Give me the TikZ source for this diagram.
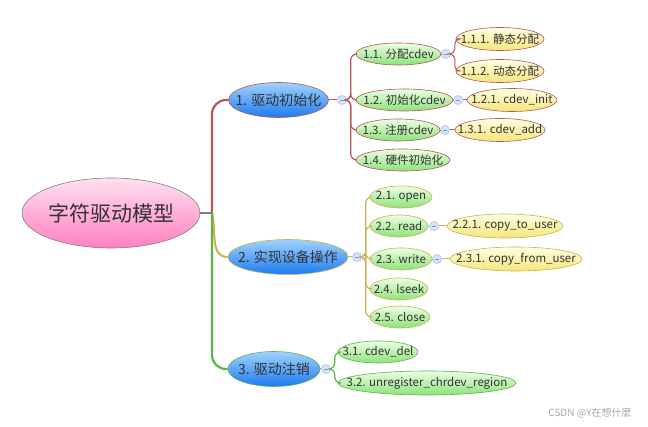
\documentclass[tikz,border=0pt]{standalone}
\usepackage{fontspec}
\newfontfamily\cjk{Noto Sans CJK SC}
\usetikzlibrary{shapes.geometric}
\newcommand{\zb}[1]{\makebox[0pt]{#1}}
\definecolor{bra}{HTML}{B5585A}
\definecolor{brb}{HTML}{C8B450}
\definecolor{brc}{HTML}{5DB34A}
\definecolor{txt}{HTML}{333333}
\definecolor{pinktop}{HTML}{FFE0F0}
\definecolor{pinkbot}{HTML}{FF80C0}
\definecolor{bluetop}{HTML}{A0D2FF}
\definecolor{bluebot}{HTML}{1E7BF0}
\definecolor{greentop}{HTML}{ECFFE4}
\definecolor{greenbot}{HTML}{8EE27A}
\definecolor{yeltop}{HTML}{FFFFE4}
\definecolor{yelbot}{HTML}{F5E57A}
\definecolor{collfill}{HTML}{D6E4FA}
\definecolor{collline}{HTML}{A0B8E4}
\definecolor{collminus}{HTML}{7896D2}
\definecolor{wmgray}{HTML}{A8A8A8}
\tikzset{
  base/.style={ellipse, inner sep=0pt, font=\cjk, text=txt, line width=0.6pt},
  rootnode/.style={base, top color=pinktop, bottom color=pinkbot, draw=gray, minimum width=178pt, minimum height=70pt, font=\cjk\fontsize{21}{24}\selectfont},
  lvone/.style={base, top color=bluetop, bottom color=bluebot, minimum height=35pt, font=\cjk\fontsize{14}{16}\selectfont},
  lvtwo/.style={base, top color=greentop, bottom color=greenbot, minimum height=22pt, font=\cjk\fontsize{11.5}{13}\selectfont},
  lvthree/.style={base, top color=yeltop, bottom color=yelbot, minimum height=23pt, font=\cjk\fontsize{11.5}{13}\selectfont},
  coll/.style={circle, inner sep=0pt, minimum size=9pt, fill=collfill, draw=collline, line width=0.5pt,
    path picture={\draw[collminus, line width=0.7pt] ([xshift=-2.2pt]path picture bounding box.center) -- ([xshift=2.2pt]path picture bounding box.center);}},
  trunk/.style={line width=2.2pt, rounded corners=14pt},
  twig/.style={line width=1.2pt, rounded corners=6pt},
  leaf/.style={line width=1pt, rounded corners=5pt},
}
\begin{document}
\begin{tikzpicture}[x=1pt, y=-1pt]
\useasboundingbox[fill=white] (0,0) rectangle (648,427);

% root
\node[rootnode] (root) at (111,213) {\zb{字符驱动模型}};

% level 1
\node[lvone, draw=bra, minimum width=100pt] (n1) at (278.5,100) {\zb{1. 驱动初始化}};
\node[lvone, draw=brb, minimum width=120pt] (n2) at (288,257) {\zb{2. 实现设备操作}};
\node[lvone, draw=brc, minimum width=92pt] (n3) at (274,369) {\zb{3. 驱动注销}};

\coordinate (rj) at (212,213);
\draw[gray, line width=1.5pt] (root.east) -- (rj);
\draw[brb, line width=2pt] (rj) to[out=-75, in=180] (n2.west);
\draw[brc, trunk] (rj) |- (n3.west);
\draw[bra, trunk] (rj) |- (n1.west);

% collapse circles level 1
\node[coll] (c1) at (342,100) {};
\node[coll] (c2) at (357,257) {};
\node[coll] (c3) at (326,369) {};
\draw[bra, line width=1pt] (n1.east) -- (c1.west);
\draw[brb, line width=1pt] (n2.east) -- (c2.west);
\draw[brc, line width=1pt] (n3.east) -- (c3.west);

% group 1
\node[lvtwo, draw=bra, minimum width=85pt] (n11) at (398.5,54) {\zb{1.1. 分配cdev}};
\node[lvtwo, draw=bra, minimum width=97pt] (n12) at (404.5,100) {\zb{1.2. 初始化cdev}};
\node[lvtwo, draw=bra, minimum width=84pt] (n13) at (398,130) {\zb{1.3. 注册cdev}};
\node[lvtwo, draw=bra, minimum width=94pt] (n14) at (403,160) {\zb{1.4. 硬件初始化}};
\foreach \ch in {n11,n12,n13,n14}
  \draw[bra, twig] (c1.east) -- ++(4,0) |- (\ch.west);

\node[coll] (c11) at (446,54) {};
\node[coll] (c12) at (458,100) {};
\node[coll] (c13) at (445,130) {};
\draw[bra, line width=0.8pt] (n11.east) -- (c11.west);
\draw[bra, line width=0.8pt] (n12.east) -- (c12.west);
\draw[bra, line width=0.8pt] (n13.east) -- (c13.west);

\node[lvthree, draw=bra, minimum width=88pt] (n111) at (500,39) {\zb{1.1.1. 静态分配}};
\node[lvthree, draw=bra, minimum width=88pt] (n112) at (500,71) {\zb{1.1.2. 动态分配}};
\node[lvthree, draw=bra, minimum width=90pt] (n121) at (512,100) {\zb{1.2.1. cdev\_init}};
\node[lvthree, draw=bra, minimum width=90pt] (n131) at (500,130) {\zb{1.3.1. cdev\_add}};
\draw[bra, leaf] (c11.east) -- ++(4,0) |- (n111.west);
\draw[bra, leaf] (c11.east) -- ++(4,0) |- (n112.west);
\draw[bra, line width=1pt] (c12.east) -- (n121.west);
\draw[bra, line width=1pt] (c13.east) -- (n131.west);

% group 2
\node[lvtwo, draw=brb, minimum width=62pt] (n21) at (401,197) {\zb{2.1. open}};
\node[lvtwo, draw=brb, minimum width=58pt] (n22) at (399,226) {\zb{2.2. read}};
\node[lvtwo, draw=brb, minimum width=62pt] (n23) at (401,259) {\zb{2.3. write}};
\node[lvtwo, draw=brb, minimum width=58pt] (n24) at (399,289) {\zb{2.4. lseek}};
\node[lvtwo, draw=brb, minimum width=60pt] (n25) at (400,317) {\zb{2.5. close}};
\foreach \ch in {n21,n22,n23,n24,n25}
  \draw[brb, twig] (c2.east) -- ++(4,0) |- (\ch.west);

\node[coll] (c22) at (434,226) {};
\node[coll] (c23) at (437,259) {};
\draw[brb, line width=0.8pt] (n22.east) -- (c22.west);
\draw[brb, line width=0.8pt] (n23.east) -- (c23.west);
\node[lvthree, draw=brb, minimum width=116pt, minimum height=24pt] (n221) at (505,226) {\zb{2.2.1. copy\_to\_user}};
\node[lvthree, draw=brb, minimum width=132pt, minimum height=24pt] (n231) at (516,259) {\zb{2.3.1. copy\_from\_user}};
\draw[brb, line width=1pt] (c22.east) -- (n221.west);
\draw[brb, line width=1pt] (c23.east) -- (n231.west);

% group 3
\node[lvtwo, draw=brc, minimum width=80pt] (n31) at (378,352) {\zb{3.1. cdev\_del}};
\node[lvtwo, draw=brc, minimum width=178pt, minimum height=24pt] (n32) at (427,383) {\zb{3.2. unregister\_chrdev\_region}};
\draw[brc, twig] (c3.east) -- ++(4,0) |- (n31.west);
\draw[brc, twig] (c3.east) -- ++(4,0) |- (n32.west);

% watermark
\node[font=\cjk\fontsize{10}{12}\selectfont, text=wmgray] (wm) at (590,413) {CSDN @Y在想什麼};
\end{tikzpicture}
\end{document}
